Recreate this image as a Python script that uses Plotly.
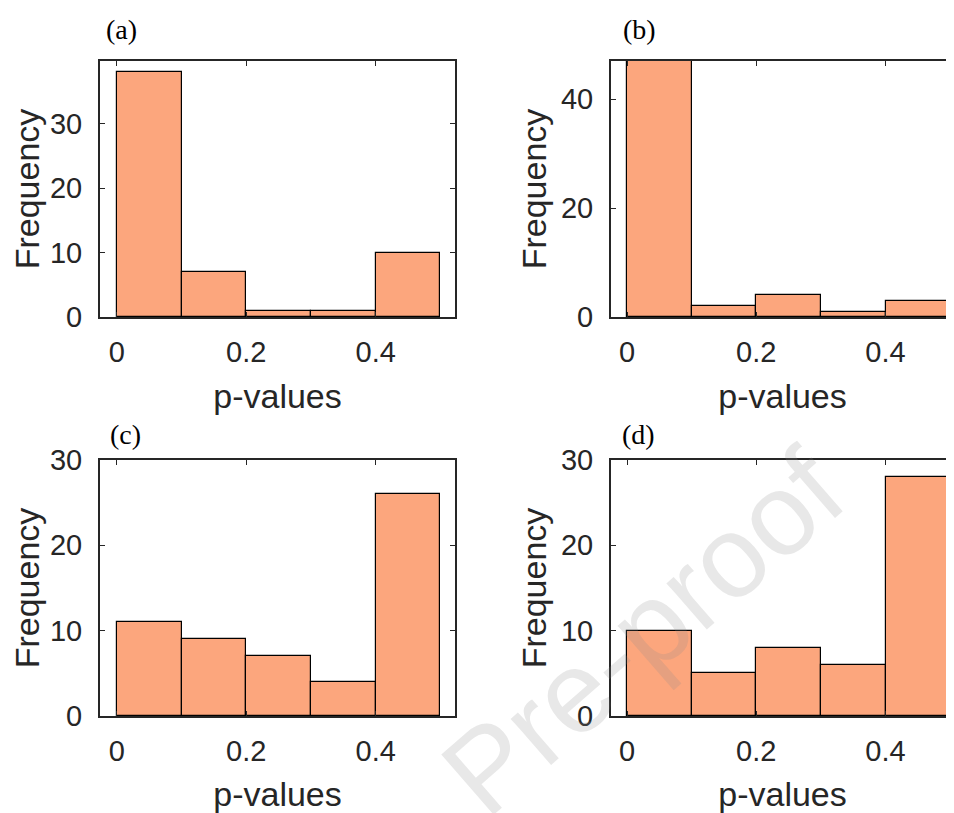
import plotly.graph_objects as go

# ---- data ----
bin_edges = [0.0, 0.1, 0.2, 0.3, 0.4, 0.5]
counts_a = [38, 7, 1, 1, 10]
counts_b = [47, 2, 4, 1, 3]
counts_c = [11, 9, 7, 4, 26]
counts_d = [10, 5, 8, 6, 28]
panel_labels = ["(a)", "(b)", "(c)", "(d)"]
x_tickvals = [0, 0.2, 0.4]
x_ticktext = ["0", "0.2", "0.4"]
y_ticks_a = [0, 10, 20, 30]
y_ticks_b = [0, 20, 40]
y_ticks_c = [0, 10, 20, 30]
y_ticks_d = [0, 10, 20, 30]
x_title = "p-values"
y_title = "Frequency"

# page is 954x813; the html body adds an 8px margin, so the figure is 8px smaller
OFF = 8
W, H = 954 - OFF, 813 - OFF
centers = [(bin_edges[i] + bin_edges[i + 1]) / 2 for i in range(len(bin_edges) - 1)]
widths = [bin_edges[i + 1] - bin_edges[i] for i in range(len(bin_edges) - 1)]

BAR = "rgb(252,166,125)"
AX = "#262626"
TICKFONT = dict(family="Liberation Sans, Arial, sans-serif", size=29, color=AX)
TITLEFONT = dict(family="Liberation Sans, Arial, sans-serif", size=34, color=AX)

# panel boxes in page pixels: (left, right, top, bottom)
boxes = [
    (100, 455, 61, 317),
    (611, 954, 61, 317),
    (100, 455, 460, 716),
    (611, 954, 460, 716),
]
xranges = [[-0.026, 0.5225], [-0.0248, 0.506], [-0.026, 0.5225], [-0.0248, 0.506]]
yranges = [[0, 39.7], [0, 47], [0, 30], [0, 30]]
yticks = [y_ticks_a, y_ticks_b, y_ticks_c, y_ticks_d]
all_counts = [counts_a, counts_b, counts_c, counts_d]

def fx(px):
    return (px - OFF) / W

def fy(py):
    return 1 - (py - OFF) / H

fig = go.Figure()
for i, cnt in enumerate(all_counts):
    n = "" if i == 0 else str(i + 1)
    fig.add_trace(go.Bar(
        x=centers, y=cnt, width=widths,
        marker=dict(color=BAR, line=dict(color="black", width=1.2)),
        xaxis="x" + n, yaxis="y" + n, showlegend=False,
    ))
    l, r, t, b = boxes[i]
    right_open = r >= 954
    fig.update_layout(**{
        "xaxis" + n: dict(
            domain=[fx(l), min(1.0, fx(r))], range=xranges[i], anchor="y" + n,
            tickvals=x_tickvals, ticktext=x_ticktext, ticks="inside", ticklen=5,
            tickwidth=1, tickcolor=AX, showline=True, linecolor=AX, linewidth=2,
            mirror="ticks", showgrid=False, zeroline=False, tickfont=TICKFONT,
            ticklabelstandoff=8, automargin=False,
            title=dict(text=x_title, font=TITLEFONT, standoff=17),
        ),
        "yaxis" + n: dict(
            domain=[fy(b), fy(t)], range=yranges[i], anchor="x" + n,
            tickvals=yticks[i], ticks="inside", ticklen=5, tickwidth=1,
            tickcolor=AX, showline=True, linecolor=AX, linewidth=2,
            mirror=False if right_open else "ticks", showgrid=False,
            zeroline=False, tickfont=TICKFONT, ticklabelstandoff=10,
            automargin=False,
            title=dict(text=y_title, font=TITLEFONT, standoff=4),
        ),
    })

label_pos = [(121, 30), (639, 30), (125, 434), (638, 434)]
annotations = []
for lab, (px, py) in zip(panel_labels, label_pos):
    annotations.append(dict(
        text=lab, x=fx(px), y=fy(py), xref="paper", yref="paper",
        xanchor="center", yanchor="middle", showarrow=False,
        font=dict(family="Liberation Serif, Times New Roman, serif", size=28, color="black"),
    ))
annotations.append(dict(
    text="Pre-proof", x=fx(643), y=fy(632), xref="paper", yref="paper",
    xanchor="center", yanchor="middle", showarrow=False, textangle=-41,
    font=dict(family="Liberation Sans, Arial, sans-serif", size=116, color="rgba(140,140,140,0.2)"),
))

fig.update_layout(
    width=W, height=H, margin=dict(l=0, r=0, t=0, b=0, autoexpand=False),
    paper_bgcolor="white", plot_bgcolor="white",
    bargap=0, annotations=annotations,
)
fig.write_html("out.html")
